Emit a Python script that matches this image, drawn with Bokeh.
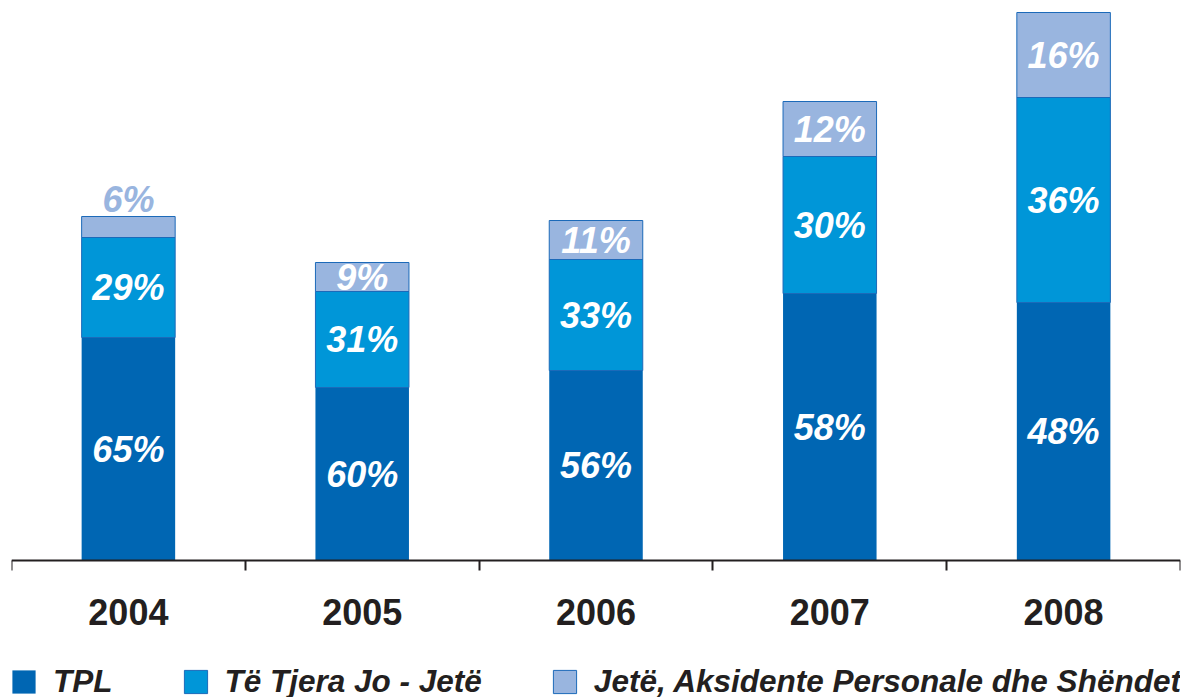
from bokeh.plotting import figure
from bokeh.models import ColumnDataSource, FixedTicker, Range1d, Legend, LegendItem
from bokeh.core.properties import value
from bokeh.embed import file_html
from bokeh.resources import INLINE

years = ["2004", "2005", "2006", "2007", "2008"]
tpl = [223, 173, 190, 267, 258]
tjera = [100, 96, 111, 137, 205]
jete = [21, 29, 39, 55, 85]
tpl_lbl = ["65%", "60%", "56%", "58%", "48%"]
tjera_lbl = ["29%", "31%", "33%", "30%", "36%"]
jete_lbl = ["6%", "9%", "11%", "12%", "16%"]
series_names = ["TPL", "Të Tjera Jo - Jetë", "Jetë, Aksidente Personale dhe Shëndet"]

C_TPL = "#0066B3"
C_TJ = "#0096D8"
C_JE = "#99B5DF"
EDGE = "#1C6AB9"
INK = "#231F20"

xc = [i + 0.5 for i in range(len(years))]
bounds = [i for i in range(len(years) + 1)]
b1 = [0] * len(years)
t1 = tpl[:]
t2 = [a + b for a, b in zip(t1, tjera)]
t3 = [a + b for a, b in zip(t2, jete)]

# frame extends below the baseline so the legend can sit inside it
p = figure(frame_width=1169, frame_height=701, x_range=Range1d(0, 5), y_range=Range1d(-150, 551),
           output_backend="svg", toolbar_location=None, y_axis_location=None,
           min_border_left=11, min_border_right=4, min_border_top=9, min_border_bottom=0)
p.outline_line_color = None
p.grid.visible = False
p.background_fill_color = "white"

src = ColumnDataSource(dict(x=xc, b1=b1, t1=t1, t2=t2, t3=t3))
r1 = p.vbar(x="x", width=0.4, bottom="b1", top="t1", source=src, fill_color=C_TPL, line_color=None)
r2 = p.vbar(x="x", width=0.4, bottom="t1", top="t2", source=src, fill_color=C_TJ, line_color=EDGE, line_width=1)
r3 = p.vbar(x="x", width=0.4, bottom="t2", top="t3", source=src, fill_color=C_JE, line_color=EDGE, line_width=1)

# labels
lx, ly, lt, lc = [], [], [], []
for i in range(len(years)):
    lx.append(xc[i]); ly.append(t1[i] / 2); lt.append(tpl_lbl[i]); lc.append("white")
    lx.append(xc[i]); ly.append((t1[i] + t2[i]) / 2); lt.append(tjera_lbl[i]); lc.append("white")
    h = t3[i] - t2[i]
    if h < 25:
        lx.append(xc[i]); ly.append(t3[i] + 17); lt.append(jete_lbl[i]); lc.append(C_JE)
    else:
        lx.append(xc[i]); ly.append((t2[i] + t3[i]) / 2); lt.append(jete_lbl[i]); lc.append("white")
lsrc = ColumnDataSource(dict(x=lx, y=ly, t=lt, c=lc))
p.text(x="x", y="y", text="t", source=lsrc, text_color="c", text_align="center",
       text_baseline="middle", text_font_size="36px", text_font_style="bold italic",
       text_font=value("Liberation Sans"))

# single x axis fixed at the baseline: labels at centres, tick marks (minor) at boundaries
ax = p.xaxis[0]
ax.fixed_location = 0
ax.ticker = FixedTicker(ticks=xc, minor_ticks=bounds)
ax.major_label_overrides = {xc[i]: years[i] for i in range(len(years))}
ax.major_tick_line_color = None
ax.major_tick_in = 0
ax.major_tick_out = 0
ax.minor_tick_in = 0
ax.minor_tick_out = 10
ax.minor_tick_line_color = INK
ax.minor_tick_line_width = 2
ax.axis_line_color = INK
ax.axis_line_width = 2
ax.major_label_text_font = "Liberation Sans"
ax.major_label_text_font_size = "36px"
ax.major_label_text_font_style = "bold"
ax.major_label_text_color = INK
ax.major_label_standoff = 28

legend = Legend(items=[LegendItem(label=series_names[i], renderers=[r])
                       for i, r in enumerate([r1, r2, r3])],
                orientation="horizontal", location=(-2, 10),
                glyph_width=29, glyph_height=29, label_standoff=15, spacing=68,
                padding=0, margin=0, border_line_color=None, background_fill_alpha=0,
                label_text_font="Liberation Sans", label_text_font_size="31.5px",
                label_text_font_style="bold italic", label_text_color=INK)
p.add_layout(legend, "center")

open("out.html", "w").write(file_html(p, INLINE))
